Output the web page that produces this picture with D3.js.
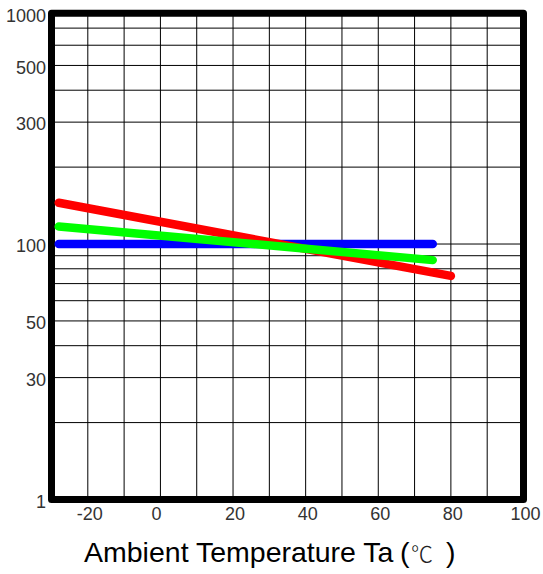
<!DOCTYPE html>
<html><head><meta charset="utf-8">
<script src="https://cdn.jsdelivr.net/npm/d3@7"></script>
<style>body{margin:0;background:#fff}svg{display:block}</style>
</head><body>
<svg id="c" width="543" height="574"></svg>
<script>
// ---- data ----
const xTicks = [-20, 0, 20, 40, 60, 80, 100];
const xTickLabels = ["-20", "0", "20", "40", "60", "80", "100"];
const xGrid = [-20, -10, 0, 10, 20, 30, 40, 50, 60, 70, 80, 90];
const yTicks = [800, 500, 300, 100, 50, 30, 10];
const yTickLabels = ["1000", "500", "300", "100", "50", "30", "1"];
const yGrid = [20, 30, 40, 50, 60, 70, 80, 90, 100, 200, 300, 400, 500, 600, 700];
const blueTemp = [-28, 75];
const blueVal = [100, 100];
const redTemp = [-28, 80];
const redVal = [145, 75];
const greenTemp = [-28, 75];
const greenVal = [117, 86.5];
const seriesColors = ["#0000ff", "#ff0000", "#00ff00"];
const xTitle = "Ambient Temperature Ta ";

// ---- drawing ----
const svg = d3.select("#c");
const x = d3.scaleLinear().domain([-30, 100]).range([51.5, 523.5]);
const y = d3.scaleLog().domain([10, 800]).range([499.5, 13.3]);

const g = svg.append("g");
g.selectAll("line.vg").data(xGrid).enter().append("line")
  .attr("x1", d => x(d)).attr("x2", d => x(d))
  .attr("y1", y(800)).attr("y2", y(10))
  .attr("stroke", "#000").attr("stroke-width", 1);
g.selectAll("line.hg").data(yGrid).enter().append("line")
  .attr("y1", d => y(d)).attr("y2", d => y(d))
  .attr("x1", x(-30)).attr("x2", x(100))
  .attr("stroke", "#000").attr("stroke-width", 1);

// frame
svg.append("rect")
  .attr("x", x(-30)).attr("y", y(800))
  .attr("width", x(100) - x(-30)).attr("height", y(10) - y(800))
  .attr("fill", "none").attr("stroke", "#000").attr("stroke-width", 7)
  .attr("stroke-linejoin", "round");

// series
const series = [
  { t: blueTemp, v: blueVal, c: seriesColors[0] },
  { t: redTemp, v: redVal, c: seriesColors[1] },
  { t: greenTemp, v: greenVal, c: seriesColors[2] }
];
const line = d3.line().x(d => x(d[0])).y(d => y(d[1]));
series.forEach(s => {
  svg.append("path")
    .datum(s.t.map((t, i) => [t, s.v[i]]))
    .attr("d", line)
    .attr("fill", "none").attr("stroke", s.c)
    .attr("stroke-width", 8.5).attr("stroke-linecap", "round");
});

// y labels
svg.selectAll("text.yl").data(yTicks).enter().append("text")
  .attr("x", 46).attr("y", d => y(d) + 2)
  .attr("dy", "0.35em")
  .attr("text-anchor", "end")
  .attr("font-family", "Liberation Sans, Arial, sans-serif")
  .attr("font-size", 18).attr("fill", "#333")
  .text((d, i) => yTickLabels[i]);

// x labels
svg.selectAll("text.xl").data(xTicks).enter().append("text")
  .attr("x", d => x(d) + (d === 0 ? -4 : 2)).attr("y", 520)
  .attr("text-anchor", "middle")
  .attr("font-family", "Liberation Sans, Arial, sans-serif")
  .attr("font-size", 18).attr("fill", "#333")
  .text((d, i) => xTickLabels[i]);

// title
const tt = svg.append("text")
  .attr("x", 84).attr("y", 562)
  .attr("font-family", "Liberation Sans, Arial, sans-serif")
  .attr("font-size", 28.5).attr("fill", "#000");
tt.append("tspan").text(xTitle);
tt.append("tspan").attr("x", 400).text("(");
tt.append("tspan").attr("x", 411).attr("font-family", "Noto Sans CJK JP, sans-serif")
  .attr("font-size", 22).attr("font-weight", 300).attr("fill", "#222").text("℃");
tt.append("tspan").attr("x", 446).text(")");
</script>
</body></html>
